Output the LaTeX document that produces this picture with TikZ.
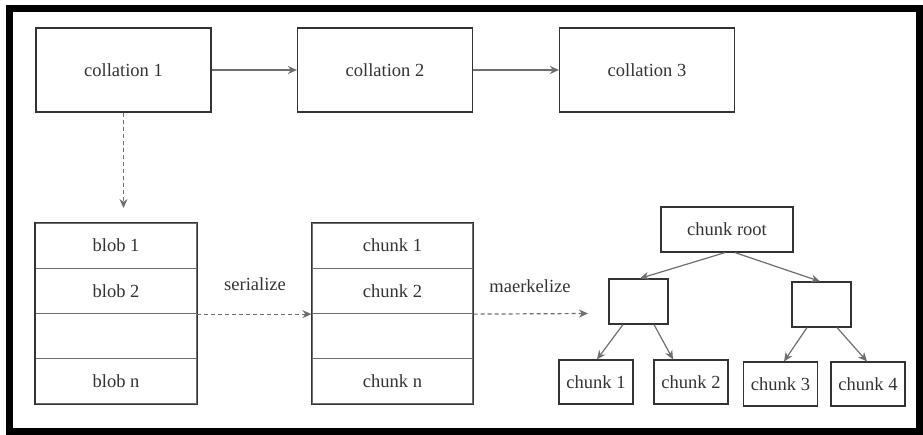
\documentclass[tikz,border=0pt]{standalone}
\usepackage{fontspec}
\setmainfont{Liberation Serif}
\usetikzlibrary{arrows.meta}
\definecolor{boxgray}{HTML}{333333}
\definecolor{arrowgray}{HTML}{6E6E6E}

\begin{document}
\begin{tikzpicture}[x=1pt,y=-1pt,
    every node/.style={text=boxgray,font=\fontsize{18.5}{22}\selectfont},
    cell/.style={draw=boxgray,line width=1.2pt,inner sep=0pt,minimum width=#1},
    collbox/.style={cell=175pt,minimum height=84pt},
    rowbox/.style={cell=161pt,draw=arrowgray,minimum height=45.25pt},
    rootbox/.style={cell=132pt,minimum height=45pt},
    midbox/.style={cell=59pt,minimum height=45pt},
    leafbox/.style={cell=74pt,minimum height=44pt},
    stackline/.style={draw=boxgray,line width=1.2pt},
    link/.style={draw=arrowgray,line width=1.2pt,-{Stealth[length=9pt,width=8pt]}},
    dashlink/.style={link,dashed,dash pattern=on 4pt off 3pt}]
    \useasboundingbox (0,0) rectangle (923,435);
    \draw[line width=7pt] (9,9) rectangle (919.5,431);

    % collations
    \node[collbox] (coll1) at (123.5,70) {collation 1};
    \node[collbox] (coll2) at (385,70) {collation 2};
    \node[collbox] (coll3) at (647,70) {collation 3};
    \draw[link] (coll1) -- (coll2);
    \draw[link] (coll2) -- (coll3);
    \coordinate (blobtop) at (123.5,208);
    \draw[dashlink] (coll1.south) -- (blobtop);

    % blobs and chunks
    \node[rowbox] (blob1) at (116,245.6) {blob 1};
    \node[rowbox] (blob2) at (116,290.9) {blob 2};
    \node[rowbox] (blob3) at (116,336.1) {};
    \node[rowbox] (blobn) at (116,381.4) {blob n};
    \draw[stackline] (blob1.north west) rectangle (blobn.south east);
    \node[rowbox] (chunk1) at (392.5,245.6) {chunk 1};
    \node[rowbox] (chunk2) at (392.5,290.9) {chunk 2};
    \node[rowbox] (chunk3) at (392.5,336.1) {};
    \node[rowbox] (chunkn) at (392.5,381.4) {chunk n};
    \draw[stackline] (chunk1.north west) rectangle (chunkn.south east);
    \draw[dashlink] (blob2.south east) -- (chunk2.south west);
    \node (serlabel) at (255,284) {serialize};
    \coordinate (treein) at (588,313.5);
    \draw[dashlink] (chunk2.south east) -- (treein);
    \node (merlabel) at (530,286) {maerkelize};

    % merkle tree
    \node[rootbox] (root) at (727,229.5) {chunk root};
    \node[midbox] (lmid) at (638.5,301.5) {};
    \node[midbox] (rmid) at (821.5,304.5) {};
    \node[leafbox] (leafa) at (596,382) {chunk 1};
    \node[leafbox] (leafb) at (691,382) {chunk 2};
    \node[leafbox] (leafc) at (780.5,384) {chunk 3};
    \node[leafbox] (leafd) at (868,384) {chunk 4};
    \draw[link] ([xshift=-2pt]root.south) -- ([xshift=1.5pt]lmid.north);
    \draw[link] ([xshift=8pt]root.south) -- ([xshift=-1.5pt]rmid.north);
    \draw[link] ([xshift=-15.5pt]lmid.south) -- ([xshift=1pt]leafa.north);
    \draw[link] ([xshift=15.5pt]lmid.south) -- ([xshift=-18pt]leafb.north);
    \draw[link] ([xshift=-14.5pt]rmid.south) -- ([xshift=3.5pt]leafc.north);
    \draw[link] ([xshift=15.5pt]rmid.south) -- ([xshift=-1pt]leafd.north);
\end{tikzpicture}
\end{document}
